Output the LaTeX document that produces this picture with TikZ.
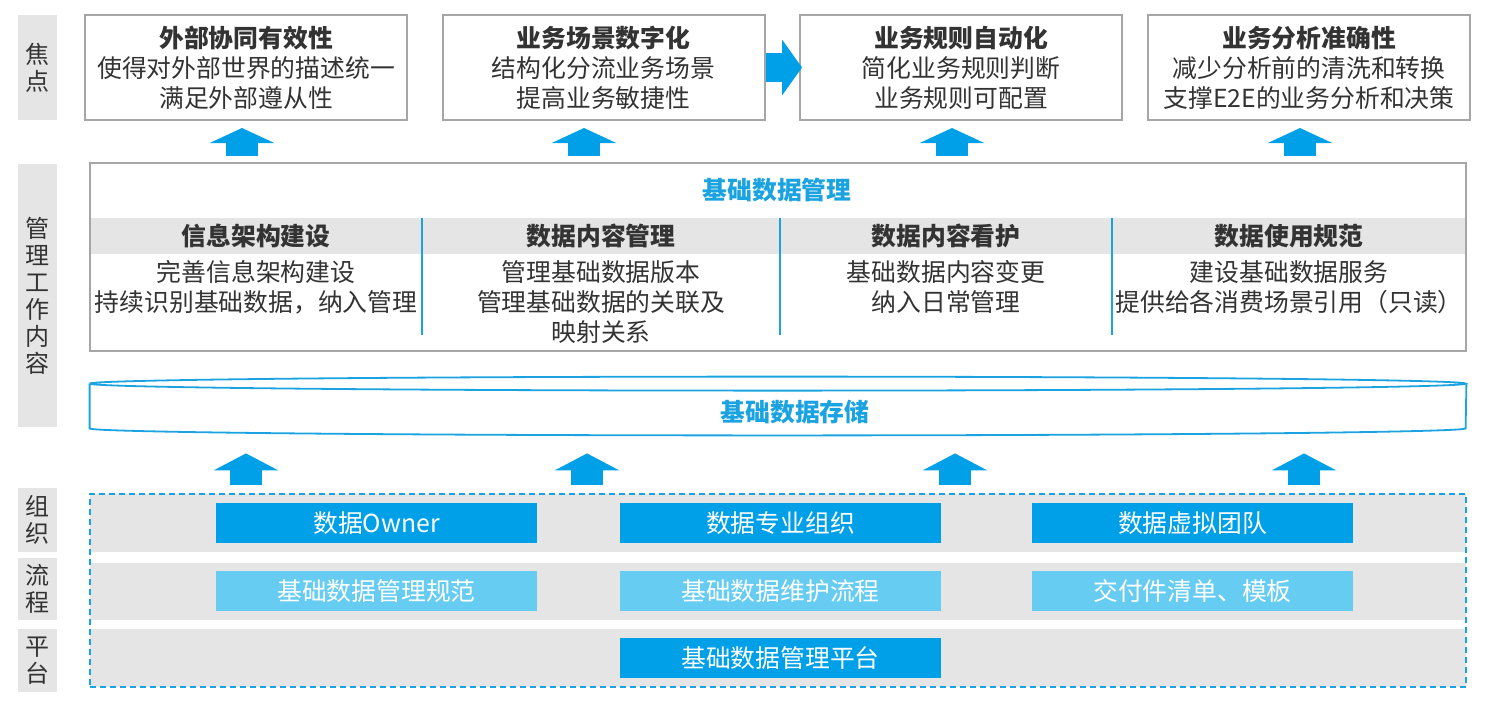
\documentclass[tikz,border=0pt]{standalone}
\usepackage{fontspec}
\setmainfont{Noto Sans CJK SC}
\usepackage{tikz}
\usetikzlibrary{arrows.meta, positioning, calc, backgrounds}
\definecolor{boxgray}{RGB}{166,166,166}
\definecolor{bandgray}{RGB}{229,229,229}
\definecolor{textdark}{RGB}{51,51,51}
\definecolor{mainblue}{RGB}{0,160,233}
\definecolor{lightblue}{RGB}{102,204,242}
\definecolor{lineblue}{RGB}{26,163,224}
\tikzset{
    bodyfont/.style={font=\fontsize{12.4}{15}\selectfont},
    sidelabel/.style={rectangle, fill=bandgray, minimum width=19.5pt, minimum height=#1, inner sep=0pt, align=center, font=\fontsize{12}{13.5}\selectfont, text=textdark},
    focusbox/.style={rectangle, draw=boxgray, line width=1pt, fill=white, minimum width=161pt, minimum height=52.5pt, align=center, bodyfont, text=textdark},
    mgmtbox/.style={rectangle, draw=boxgray, line width=1pt, fill=white, minimum width=688pt, minimum height=94pt},
    headband/.style={rectangle, fill=bandgray, minimum width=687pt, minimum height=18pt, inner sep=0pt},
    bluetitle/.style={font=\fontsize{12.4}{15}\selectfont\bfseries, text=lineblue},
    colhead/.style={font=\fontsize{12.4}{15}\selectfont\bfseries, text=textdark},
    colbody/.style={anchor=north, inner sep=0pt, align=center, bodyfont, text=textdark},
    coldivider/.style={draw=lineblue, line width=0.6pt},
    storebody/.style={rectangle, minimum width=688pt, minimum height=22pt, inner sep=0pt},
    storeline/.style={draw=lineblue, line width=0.9pt},
    upblock/.style={draw=mainblue, line width=16pt, -{Triangle[width=32pt, length=#1]}},
    rightblock/.style={draw=mainblue, line width=14.5pt, -{Triangle[width=27.5pt, length=10pt]}, shorten >=-1.5pt},
    basebox/.style={rectangle, draw=lineblue, line width=0.9pt, dash pattern=on 3pt off 2pt, minimum width=688pt, minimum height=96.5pt},
    rowband/.style={rectangle, fill=bandgray, minimum width=688pt, minimum height=#1, inner sep=0pt},
    teamblock/.style={rectangle, fill=#1, minimum width=160.5pt, minimum height=20pt, inner sep=0pt, bodyfont, text=white}
}

\begin{document}
\begin{tikzpicture}[x=0.5pt, y=-0.5pt]
\useasboundingbox (0,0) rectangle (1487,714);

\node[sidelabel=52.5pt] (lblfocus) at (37.5,67.5) {焦\\点};
\node[sidelabel=131.5pt] (lblwork) at (37.5,295.5) {管\\理\\工\\作\\内\\容};
\node[sidelabel=32pt] (lblorg) at (37.5,520) {组\\织};
\node[sidelabel=31pt] (lblflow) at (37.5,589) {流\\程};
\node[sidelabel=31.5pt] (lblplat) at (37.5,660.5) {平\\台};

\node[focusbox] (focus1) at (246,67.5) {\textbf{外部协同有效性}\\使得对外部世界的描述统一\\满足外部遵从性};
\node[focusbox] (focus2) at (603.5,67.5) {\textbf{业务场景数字化}\\结构化分流业务场景\\提高业务敏捷性};
\node[focusbox] (focus3) at (961,67.5) {\textbf{业务规则自动化}\\简化业务规则判断\\业务规则可配置};
\node[focusbox] (focus4) at (1309,67.5) {\textbf{业务分析准确性}\\减少分析前的清洗和转换\\支撑E2E的业务分析和决策};

\draw[rightblock] (focus2) -- (focus3);

\node[mgmtbox] (mgmt) at (778,257) {};
\node[headband] (band) at (778,236) {};
\node[bluetitle] (mgmttitle) at (777,190) {基础数据管理};
\node[colhead] (head1) at (256,236) {信息架构建设};
\node[colhead] (head2) at (601,236) {数据内容管理};
\node[colhead] (head3) at (946,236) {数据内容看护};
\node[colhead] (head4) at (1289,236) {数据使用规范};
\node[colbody] (body1) at (256,260) {完善信息架构建设\\持续识别基础数据，纳入管理};
\node[colbody] (body2) at (601,260) {管理基础数据版本\\管理基础数据的关联及\\映射关系};
\node[colbody] (body3) at (946,260) {基础数据内容变更\\纳入日常管理};
\node[colbody] (body4) at (1289,260) {建设基础数据服务\\提供给各消费场景引用（只读）};
\foreach \x in {422,780,1112}
    \draw[coldivider] (\x,218) -- (\x,335);

\foreach \i/\dx in {1/-4,2/-19.5,3/-9,4/-9} {
    \coordinate (top\i) at ($(focus\i.south)+(\dx,0)$);
    \draw[upblock=7.5pt, shorten <=3pt, shorten >=3.5pt] (top\i |- mgmt.north) -- (top\i);
}

\node[storebody] (store) at (778,406) {};
\draw[storeline] (store.north west) arc[start angle=180, end angle=-180, x radius=688, y radius=7];
\draw[storeline] (store.north west) -- (store.south west) arc[start angle=180, end angle=0, x radius=688, y radius=7] -- (store.north east);
\node[bluetitle] (storetitle) at (795,412) {基础数据存储};

\node[basebox] (base) at (778,590.5) {};
\begin{scope}[on background layer]
    \node[rowband=29pt] (row1) at (778,523) {};
    \node[rowband=28.5pt] (row2) at (778,591.5) {};
    \node[rowband=29pt] (row3) at (778,658) {};
\end{scope}

\foreach \i/\dx in {1/0,2/-16.5,3/-6,4/-5} {
    \coordinate (low\i) at ($(focus\i.south |- store.south)+(\dx,0)$);
    \draw[upblock=8.5pt, shorten <=4pt, shorten >=12.5pt] (low\i |- base.north) -- (low\i);
}

\node[teamblock=mainblue] (owner) at (376.5,523) {数据Owner};
\node[teamblock=mainblue] (expert) at (780.5,523) {数据专业组织};
\node[teamblock=mainblue] (virtual) at (1192.5,523) {数据虚拟团队};
\node[teamblock=lightblue] (spec) at (376.5,591) {基础数据管理规范};
\node[teamblock=lightblue] (maint) at (780.5,591) {基础数据维护流程};
\node[teamblock=lightblue] (deliver) at (1192.5,591) {交付件清单、模板};
\node[teamblock=mainblue] (platform) at (780.5,658) {基础数据管理平台};

\end{tikzpicture}
\end{document}
